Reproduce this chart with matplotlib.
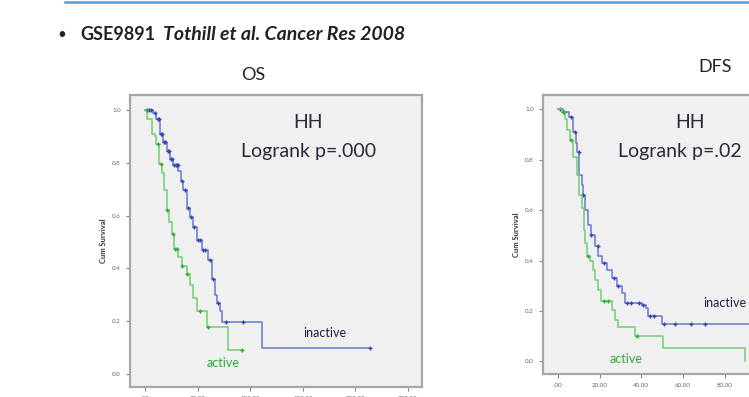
import numpy as np
import matplotlib
matplotlib.use('Agg')
import matplotlib.pyplot as plt
from matplotlib.ticker import FuncFormatter

plt.rcParams['font.family'] = ['Lato', 'DejaVu Sans']

# OS 数据 (months)
os_inact_t = [0, 7.3, 10.5, 14.3, 17.4, 20.6, 23.8, 27, 31.7, 33.9, 36.5, 39.6, 42.8, 45.3, 49.1, 53.9,
              60.2, 63.4, 66.5, 68, 71.3, 72.9, 111]
os_inact_s = [1.0, 0.99, 0.965, 0.91, 0.877, 0.845, 0.814, 0.79, 0.77, 0.73, 0.695, 0.63, 0.594, 0.556,
              0.506, 0.468, 0.43, 0.36, 0.30, 0.27, 0.24, 0.195, 0.098]
os_inact_end = 214
os_inact_cens = [2, 4, 6, 9, 12, 13, 15, 16, 18, 19, 22, 23, 25, 26, 28, 29, 30, 31, 35, 38, 41, 44, 47,
                 50, 52, 55, 57, 62, 65, 69, 77, 93, 214]

os_act_t = [0, 2.2, 6.3, 9.5, 10.8, 13.6, 15.8, 18, 20.6, 23.1, 25.4, 27.6, 31.7, 34.9, 39.6, 42.8, 46,
            49.1, 58.6, 79.2]
os_act_s = [1.0, 0.965, 0.91, 0.90, 0.87, 0.795, 0.763, 0.695, 0.62, 0.575, 0.53, 0.474, 0.443, 0.41,
            0.38, 0.336, 0.286, 0.24, 0.178, 0.09]
os_act_end = 92
os_act_cens = [2, 12, 15, 21, 27, 28.5, 30, 35, 40, 52, 60, 92]

# DFS 数据
dfs_inact_t = [0, 2.5, 5.4, 7.3, 8.6, 9.3, 10.2, 11.4, 11.8, 13, 14.5, 15.7, 17.7, 19.3, 21, 23.3,
               25.7, 28.2, 30.5, 32.1, 40.1, 42, 43.3, 49.7]
dfs_inact_s = [1.0, 0.99, 0.97, 0.91, 0.865, 0.83, 0.74, 0.70, 0.66, 0.60, 0.54, 0.50, 0.457, 0.42,
               0.39, 0.364, 0.33, 0.30, 0.27, 0.233, 0.224, 0.21, 0.18, 0.15]
dfs_inact_end = 112
dfs_inact_cens = [1, 3, 6, 8, 10, 12, 16, 19, 22, 27, 29, 33, 35, 39, 41, 44, 46, 51, 56, 64, 70.5]

dfs_act_t = [0, 1.8, 3.4, 4.2, 5.8, 7.3, 9, 10.2, 11.4, 12.5, 13, 13.8, 15.3, 17, 17.7, 19.3, 20.6,
             25.7, 27.3, 28.9, 36.9, 50.5, 89.7]
dfs_act_s = [1.0, 0.99, 0.96, 0.92, 0.88, 0.81, 0.74, 0.66, 0.61, 0.52, 0.47, 0.42, 0.40, 0.364,
             0.324, 0.284, 0.24, 0.204, 0.164, 0.135, 0.10, 0.055, 0.0]
dfs_act_end = 89.7
dfs_act_cens = [2.5, 6, 14.5, 22, 24, 38.1]

os_xticks = [0, 50, 100, 150, 200, 250]
dfs_xticks = [0, 20, 40, 60, 80, 100, 120]
yticks = [0.0, 0.2, 0.4, 0.6, 0.8, 1.0]

BLUE_LINE = '#6a79cf'
BLUE_MARK = '#3445b5'
GREEN_LINE = '#6fcf6f'
GREEN_MARK = '#35a835'


def km(ax, t, s, end, cens, lc, mc):
    tt = list(t) + [end]
    ss = list(s) + [s[-1]]
    ax.step(tt, ss, where='post', color=lc, lw=1.1)
    idx = np.searchsorted(t, cens, side='right') - 1
    cy = np.array(s)[idx]
    ax.plot(cens, cy, ls='none', marker='+', ms=3.5, mew=1.0, color=mc)


def style(ax, xlim, xticks):
    ax.set_facecolor('#f0f0f0')
    ax.set_xlim(*xlim)
    ax.set_ylim(-0.05, 1.057)
    ax.set_xticks(xticks)
    ax.set_yticks(yticks)
    ax.xaxis.set_major_formatter(FuncFormatter(lambda v, p: ('%.2f' % v).lstrip('0') if v == 0 else '%.2f' % v))
    ax.yaxis.set_major_formatter(FuncFormatter(lambda v, p: '%.1f' % v))
    ax.tick_params(labelsize=4.5, labelcolor='#666666', color='#888888', length=3, width=0.8)
    for sp in ax.spines.values():
        sp.set_color('#a6a6a6')
        sp.set_linewidth(1.6)
    ax.set_ylabel('Cum Survival', fontsize=5.5, fontweight='bold', color='#333333', labelpad=4)


fig = plt.figure(figsize=(7.49, 3.97), dpi=100)

# 顶部蓝线
fig.add_artist(plt.Line2D([65 / 749, 1.0], [1 - 2 / 397, 1 - 2 / 397], color='#5b9bd5', lw=1.8))
fig.text(57 / 749, 1 - 35 / 397, '•', fontsize=11, va='center', ha='left', color='#222222')
fig.text(80 / 749, 1 - 35 / 397, 'GSE9891', fontsize=13, fontweight='bold', va='center', ha='left',
         color='#222222')
fig.text(163 / 749, 1 - 35 / 397, 'Tothill et al. Cancer Res 2008', fontsize=14, fontweight='bold',
         style='italic', va='center', ha='left', color='#222222')

# OS
ax1 = fig.add_axes([130 / 749, 1 - 387 / 397, 292 / 749, 292 / 397])
style(ax1, (-14.3, 263.3), os_xticks)
km(ax1, os_inact_t, os_inact_s, os_inact_end, os_inact_cens, BLUE_LINE, BLUE_MARK)
km(ax1, os_act_t, os_act_s, os_act_end, os_act_cens, GREEN_LINE, GREEN_MARK)
fig.text(253 / 749, 1 - 75 / 397, 'OS', fontsize=13, ha='center', va='center', color='#222222')
fig.text(308 / 749, 1 - 123 / 397, 'HH', fontsize=14, ha='center', va='center', color='#2a2a3a')
fig.text(309 / 749, 1 - 152 / 397, 'Logrank p=.000', fontsize=14, ha='center', va='center', color='#2a2a3a')
fig.text(303 / 749, 1 - 333 / 397, 'inactive', fontsize=9, ha='left', va='center', color='#202040')
fig.text(207 / 749, 1 - 363 / 397, 'active', fontsize=9, ha='left', va='center', color='#30a83a')

# DFS
ax2 = fig.add_axes([543 / 749, 1 - 374 / 397, 300 / 749, 279 / 397])
style(ax2, (-7.2, 136.7), dfs_xticks)
km(ax2, dfs_inact_t, dfs_inact_s, dfs_inact_end, dfs_inact_cens, BLUE_LINE, BLUE_MARK)
km(ax2, dfs_act_t, dfs_act_s, dfs_act_end, dfs_act_cens, GREEN_LINE, GREEN_MARK)
fig.text(715 / 749, 1 - 67 / 397, 'DFS', fontsize=13, ha='center', va='center', color='#222222')
fig.text(690 / 749, 1 - 123 / 397, 'HH', fontsize=14, ha='center', va='center', color='#2a2a3a')
fig.text(618 / 749, 1 - 152 / 397, 'Logrank p=.02', fontsize=14, ha='left', va='center', color='#2a2a3a')
fig.text(703 / 749, 1 - 303 / 397, 'inactive', fontsize=9, ha='left', va='center', color='#202040')
fig.text(610 / 749, 1 - 359 / 397, 'active', fontsize=9, ha='left', va='center', color='#30a83a')

fig.savefig('out.png', dpi=100)
